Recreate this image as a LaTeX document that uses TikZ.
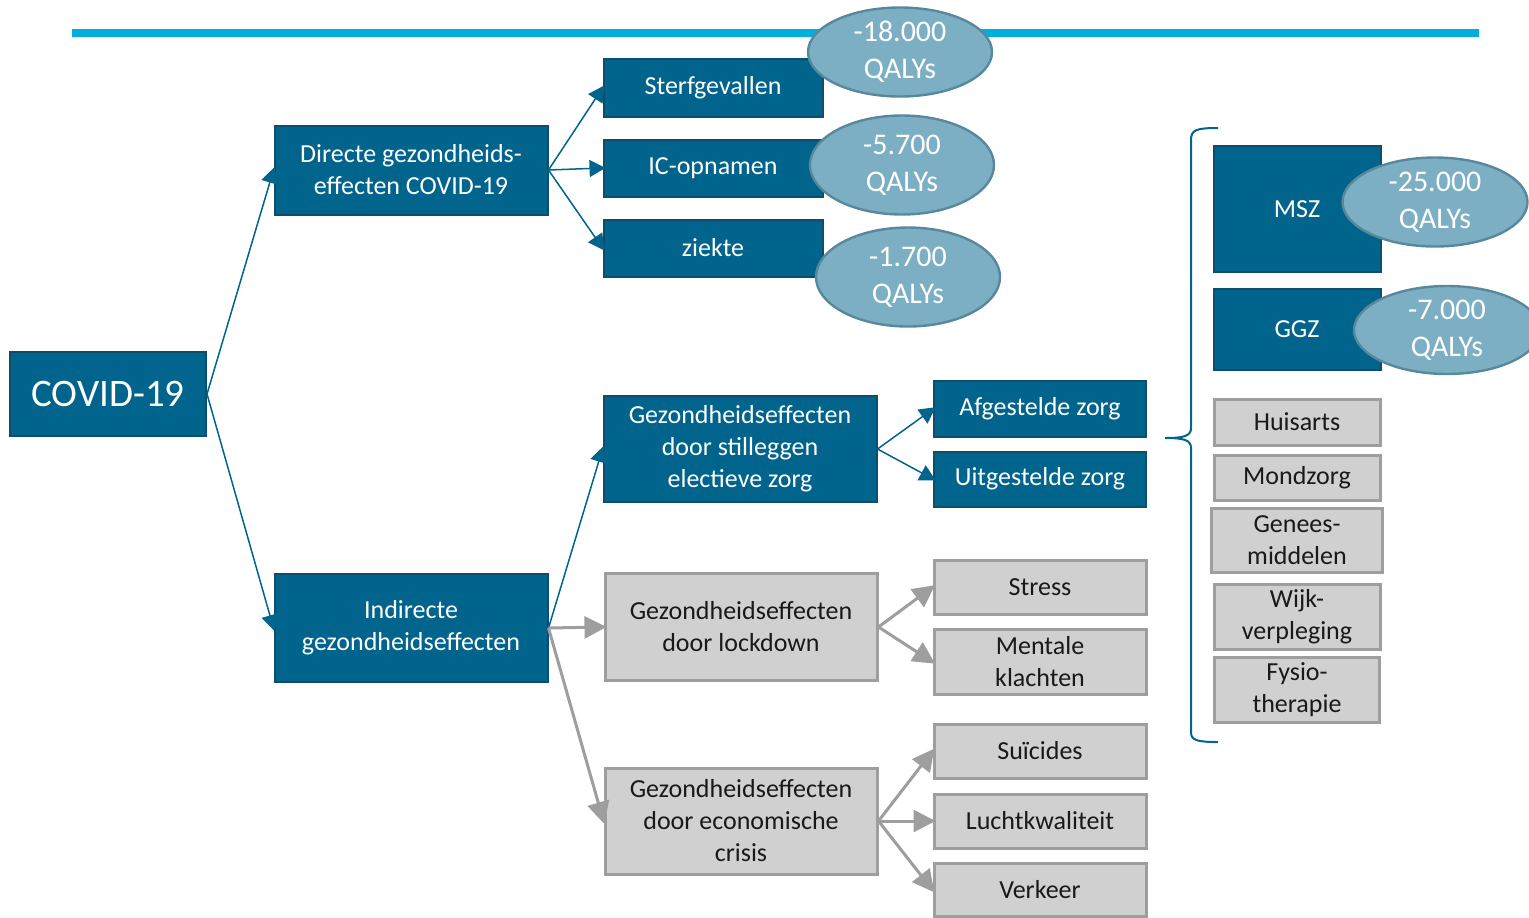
\documentclass[tikz,border=0pt]{standalone}
\usepackage{fontspec}
\setmainfont{Carlito}
\usetikzlibrary{arrows.meta,shapes.geometric}
\definecolor{zorgblauw}{RGB}{0,100,140}
\definecolor{zorgrand}{RGB}{12,78,108}
\definecolor{qalyvul}{RGB}{125,175,196}
\definecolor{qalyrand}{RGB}{88,136,156}
\definecolor{grijsvul}{RGB}{208,208,208}
\definecolor{grijsrand}{RGB}{158,158,158}
\definecolor{grijstekst}{RGB}{25,25,25}
\definecolor{lijnblauw}{RGB}{0,174,219}
\tikzset{
  maat/.style 2 args={minimum width=#1*0.5pt,minimum height=#2*0.5pt},
  blauw/.style={draw=zorgrand,line width=1pt,fill=zorgblauw,text=white,align=center,
    inner sep=0pt,font=\fontsize{13}{16}\selectfont},
  grijs/.style={draw=grijsrand,line width=1.5pt,fill=grijsvul,text=grijstekst,align=center,
    inner sep=0pt,font=\fontsize{13}{16}\selectfont},
  qaly/.style={ellipse,draw=qalyrand,line width=1.2pt,fill=qalyvul,text=white,align=center,
    inner sep=0pt,font=\fontsize{15}{18.5}\selectfont},
  pijlb/.style={draw=zorgblauw,line width=0.75pt,-{Triangle[length=8pt,width=8.5pt]},shorten >=-1.5pt},
  pijlg/.style={draw=grijsrand,line width=1.5pt,-{Triangle[length=11pt,width=11pt]},shorten >=-1.5pt}
}
\begin{document}
\begin{tikzpicture}[x=0.5pt,y=-0.5pt]
\useasboundingbox (0,0) rectangle (1529,917);

% top line
\draw[lijnblauw,line width=4pt] (72,33) -- (1479,33);

% left part
\node[blauw,maat={196}{84},font=\fontsize{19.5}{23}\selectfont] (covid) at (108,394) {COVID-19};
\node[blauw,maat={273}{89}] (directe) at (411,170) {Directe gezondheids-\\effecten COVID-19};
\node[blauw,maat={273}{108}] (indirecte) at (411,628) {Indirecte\\gezondheidseffecten};

% direct effects
\node[blauw,maat={219}{58}] (sterf) at (713,88) {Sterfgevallen};
\node[blauw,maat={219}{57}] (ic) at (713,168) {IC-opnamen};
\node[blauw,maat={219}{57}] (ziekte) at (713,248) {ziekte};

% indirect effects
\node[blauw,maat={273}{106}] (stil) at (740,449) {Gezondheidseffecten\\door stilleggen\\electieve zorg};
\node[blauw,maat={212}{56}] (afgest) at (1040,409) {Afgestelde zorg};
\node[blauw,maat={212}{55}] (uitgest) at (1040,479) {Uitgestelde zorg};
\node[grijs,maat={272}{107}] (lockdown) at (741,627) {Gezondheidseffecten\\door lockdown};
\node[grijs,maat={212}{54}] (stress) at (1040,587) {Stress};
\node[grijs,maat={212}{65}] (mentaal) at (1040,662) {Mentale\\klachten};
\node[grijs,maat={272}{106}] (crisis) at (741,821) {Gezondheidseffecten\\door economische\\crisis};
\node[grijs,maat={212}{54}] (suicide) at (1040,751) {Suïcides};
\node[grijs,maat={212}{54}] (lucht) at (1040,821) {Luchtkwaliteit};
\node[grijs,maat={212}{53}] (verkeer) at (1040,890) {Verkeer};

% sectors
\node[blauw,maat={167}{126}] (msz) at (1297,209) {MSZ};
\node[blauw,maat={167}{81}] (ggz) at (1297,329) {GGZ};
\node[grijs,maat={166}{46}] (huisarts) at (1297,422) {Huisarts};
\node[grijs,maat={166}{45}] (mondzorg) at (1297,478) {Mondzorg};
\node[grijs,maat={171}{64}] (genees) at (1297,540) {Genees-\\middelen};
\node[grijs,maat={166}{65}] (wijk) at (1297,617) {Wijk-\\verpleging};
\node[grijs,maat={165}{65}] (fysio) at (1297,690) {Fysio-\\therapie};

% QALY losses
\node[qaly,maat={184}{89}] (q18) at (900,52) {-18.000\\QALYs};
\node[qaly,maat={184}{99}] (q57) at (902,165) {-5.700\\QALYs};
\node[qaly,maat={184}{99}] (q17) at (908,277) {-1.700\\QALYs};
\node[qaly,maat={185}{89}] (q25) at (1435,202) {-25.000\\QALYs};
\node[qaly,maat={186}{88}] (q7) at (1447,330) {-7.000\\QALYs};

% arrows
\draw[pijlb] (covid.east) -- (directe.west);
\draw[pijlb] (covid.east) -- (indirecte.west);
\draw[pijlb] (directe.east) -- (sterf.west);
\draw[pijlb] (directe.east) -- (ic.west);
\draw[pijlb] (directe.east) -- (ziekte.west);
\draw[pijlb] (indirecte.east) -- (stil.west);
\draw[pijlb] (stil.east) -- (afgest.west);
\draw[pijlb] (stil.east) -- (uitgest.west);
\draw[pijlg] (indirecte.east) -- (lockdown.west);
\draw[pijlg] (indirecte.east) -- (crisis.west);
\draw[pijlg] (lockdown.east) -- (stress.west);
\draw[pijlg] (lockdown.east) -- (mentaal.west);
\draw[pijlg] (crisis.east) -- (suicide.west);
\draw[pijlg] (crisis.east) -- (lucht.west);
\draw[pijlg] (crisis.east) -- (verkeer.west);

% brace
\draw[zorgblauw,line width=1pt] (1218,128) .. controls (1196,128) and (1191,130) .. (1191,140)
  -- (1191,428) .. controls (1191,436) and (1184,438) .. (1165,438)
  .. controls (1184,438) and (1191,440) .. (1191,448)
  -- (1191,732) .. controls (1191,740) and (1196,742) .. (1218,742);
\end{tikzpicture}
\end{document}
